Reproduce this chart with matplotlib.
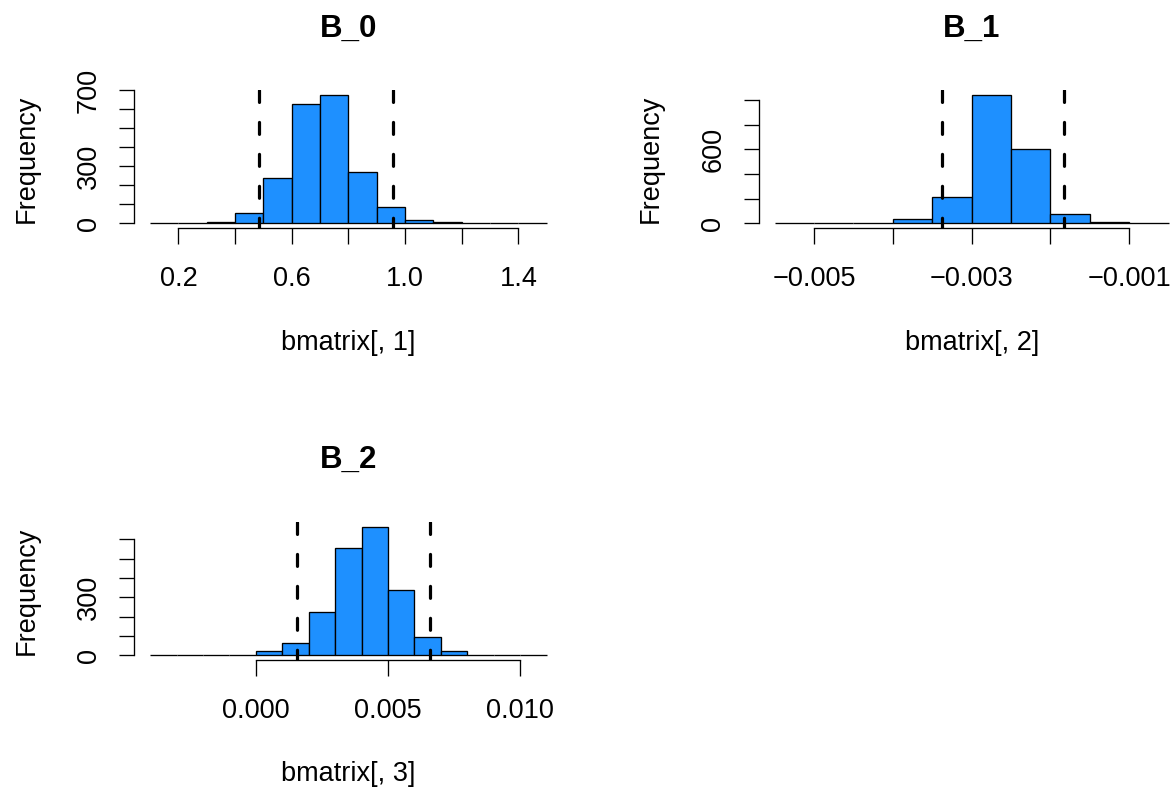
import matplotlib
matplotlib.use("Agg")
import matplotlib.pyplot as plt
from matplotlib.transforms import blended_transform_factory as blend

plt.rcParams['font.family'] = ['Liberation Sans', 'DejaVu Sans']
plt.rcParams['lines.scale_dashes'] = False

# ---------------- data ----------------
titles = ["B_0", "B_1", "B_2"]
xlabels = ["bmatrix[, 1]", "bmatrix[, 2]", "bmatrix[, 3]"]

b0_breaks = [0.1, 0.2, 0.3, 0.4, 0.5, 0.6, 0.7, 0.8, 0.9, 1.0, 1.1, 1.2, 1.3, 1.4, 1.5]
b0_counts = [1, 2, 9, 53, 240, 628, 675, 270, 87, 17, 8, 3, 1, 1]
b0_ci = [0.486, 0.957]
b0_xticks = [0.2, 0.4, 0.6, 0.8, 1.0, 1.2, 1.4]
b0_xticklabels = ["0.2", "", "0.6", "", "1.0", "", "1.4"]
b0_yticks = [0, 100, 200, 300, 400, 500, 600, 700]
b0_yticklabels = ["0", "", "", "300", "", "", "", "700"]

b1_breaks = [-0.0055, -0.005, -0.0045, -0.004, -0.0035, -0.003, -0.0025,
             -0.002, -0.0015, -0.001, -0.0005]
b1_counts = [0, 1, 3, 32, 215, 1040, 601, 75, 13, 1]
b1_ci = [-0.00337, -0.00183]
b1_xticks = [-0.005, -0.004, -0.003, -0.002, -0.001]
b1_xticklabels = ["\u22120.005", "", "\u22120.003", "", "\u22120.001"]
b1_yticks = [0, 200, 400, 600, 800, 1000]
b1_yticklabels = ["0", "", "", "600", "", ""]

b2_breaks = [-0.004, -0.003, -0.002, -0.001, 0.0, 0.001, 0.002, 0.003, 0.004,
             0.005, 0.006, 0.007, 0.008, 0.009, 0.010, 0.011]
b2_counts = [0, 0, 1, 2, 22, 64, 226, 558, 666, 340, 93, 22, 3, 1, 0]
b2_ci = [0.00156, 0.00658]
b2_xticks = [0.0, 0.005, 0.010]
b2_xticklabels = ["0.000", "0.005", "0.010"]
b2_yticks = [0, 100, 200, 300, 400, 500, 600]
b2_yticklabels = ["0", "", "", "300", "", "", ""]

# ---------------- layout (pixels) ----------------
W, H = 1171, 788
fig = plt.figure(figsize=(W / 100, H / 100), dpi=100)

def fx(px):
    return px / W

def fy(py):
    return 1 - py / H

panels = [
    dict(breaks=b0_breaks, counts=b0_counts, ci=b0_ci, xt=b0_xticks, xtl=b0_xticklabels,
         yt=b0_yticks, ytl=b0_yticklabels, title=titles[0], xlabel=xlabels[0],
         l=134.3, r=562.5, t=89.9, b=228.4, col_off=0.0,
         title_y=36.5, xtl_y=286.0, xlab_y=350.5),
    dict(breaks=b1_breaks, counts=b1_counts, ci=b1_ci, xt=b1_xticks, xtl=b1_xticklabels,
         yt=b1_yticks, ytl=b1_yticklabels, title=titles[1], xlabel=xlabels[1],
         l=758.8, r=1184.5, t=89.9, b=228.4, col_off=624.5,
         title_y=36.5, xtl_y=286.0, xlab_y=350.5),
    dict(breaks=b2_breaks, counts=b2_counts, ci=b2_ci, xt=b2_xticks, xtl=b2_xticklabels,
         yt=b2_yticks, ytl=b2_yticklabels, title=titles[2], xlabel=xlabels[2],
         l=134.3, r=562.5, t=521.6, b=660.3, col_off=0.0,
         title_y=467.7, xtl_y=717.7, xlab_y=781.0),
]

FS = 19.5
FS_T = 22.5
TICKLEN = 11.16  # points (15.5 px)
LW = 0.95

for p in panels:
    ax = fig.add_axes([fx(p['l']), fy(p['b']), fx(p['r'] - p['l']), (p['b'] - p['t']) / H])
    br = p['breaks']
    cnt = p['counts']
    lefts = br[:-1]
    widths = [br[i + 1] - br[i] for i in range(len(br) - 1)]
    ax.bar(lefts, cnt, width=widths, align='edge', color='#1E90FF',
           edgecolor='black', linewidth=LW, zorder=2)
    rng = br[-1] - br[0]
    ax.set_xlim(br[0] - 0.04 * rng, br[-1] + 0.04 * rng)
    m = max(cnt)
    ax.set_ylim(-0.04 * m, 1.04 * m)

    for v in p['ci']:
        ax.axvline(v, ymin=1, ymax=0, color='black', lw=2.3,
                   linestyle=(0, (8.6, 14.4)), dash_capstyle='round', zorder=3)

    for s in ['top', 'right']:
        ax.spines[s].set_visible(False)
    ax.spines['left'].set_bounds(p['yt'][0], p['yt'][-1])
    ax.spines['bottom'].set_bounds(p['xt'][0], p['xt'][-1])
    ax.spines['left'].set_linewidth(LW)
    ax.spines['bottom'].set_linewidth(LW)
    ax.set_xticks(p['xt'])
    ax.set_yticks(p['yt'])
    ax.tick_params(direction='out', length=TICKLEN, width=LW,
                   labelbottom=False, labelleft=False)
    ax.patch.set_visible(False)

    # x tick labels
    tx = blend(ax.transData, fig.transFigure)
    for v, lab in zip(p['xt'], p['xtl']):
        if lab:
            ax.text(v, fy(p['xtl_y']), lab, transform=tx, ha='center',
                    va='baseline', fontsize=FS, clip_on=False)
    # y tick labels
    ty = blend(fig.transFigure, ax.transData)
    for v, lab in zip(p['yt'], p['ytl']):
        if lab:
            ax.text(fx(95.7 + p['col_off']), v, lab, transform=ty, rotation=90,
                    rotation_mode='anchor', ha='center', va='baseline',
                    fontsize=FS, clip_on=False)
    # y label
    tyl = blend(fig.transFigure, ax.transAxes)
    ax.text(fx(33.3 + p['col_off']), 0.5, "Frequency", transform=tyl, rotation=90,
            rotation_mode='anchor', ha='center', va='baseline', fontsize=FS,
            clip_on=False)
    # x label and title
    txl = blend(ax.transAxes, fig.transFigure)
    ax.text(0.5, fy(p['xlab_y']), p['xlabel'], transform=txl, ha='center',
            va='baseline', fontsize=FS, clip_on=False)
    ax.text(0.5, fy(p['title_y']), p['title'], transform=txl, ha='center',
            va='baseline', fontsize=FS_T, fontweight='bold', clip_on=False)

fig.savefig("out.png", dpi=100)
